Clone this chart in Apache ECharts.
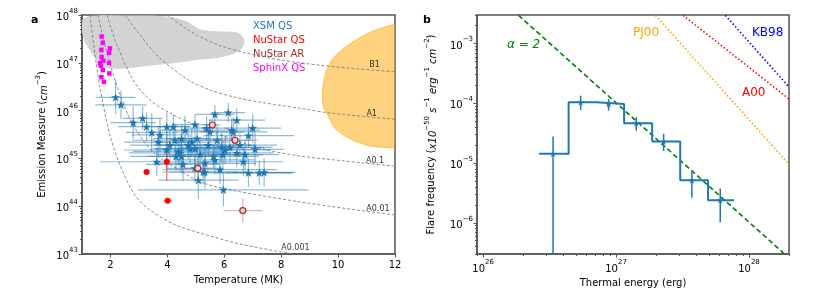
<!DOCTYPE html>
<html><head><meta charset="utf-8">
<script src="https://cdn.jsdelivr.net/npm/echarts@6/dist/echarts.min.js"></script>
<style>html,body{margin:0;padding:0;background:#fff}#c{width:822px;height:299px}</style>
</head><body><div id="c"></div>
<script>
// ---------- Panel a data ----------
// [T (MK), EM (cm^-3), T error (MK), EM error (dex)]
const xsmQS = [
 [2.18,1.9e46,0.7,0.35],[2.37,1.32e46,0.9,0.3],[2.80,5.6e45,0.8,0.35],[3.13,6.9e45,0.7,0.25],
 [3.27,4.6e45,1.0,0.3],[3.45,3.5e45,0.9,0.4],[3.68,2.2e45,1.2,0.3],[3.98,4.6e45,0.8,0.3],
 [4.21,4.6e45,0.6,0.25],[4.97,5.1e45,0.8,0.2],[5.67,8.3e45,0.7,0.2],[6.14,9.1e45,0.6,0.2],
 [5.50,3.6e45,1.2,0.25],[4.27,2.4e45,1.5,0.35],[4.50,2.6e45,1.0,0.3],[4.86,2.2e45,1.3,0.3],
 [3.98,1.5e45,1.5,0.4],[4.38,1.4e45,1.6,0.3],[4.97,1.6e45,1.4,0.3],[5.44,1.9e45,1.7,0.25],
 [5.91,1.7e45,1.5,0.3],[5.62,1.1e45,1.6,0.25],[5.32,7.9e44,1.8,0.3],[4.50,1.1e45,1.2,0.35],
 [3.63,8.5e44,2.0,0.3],[4.97,6.2e44,1.0,0.3],[5.32,5.2e44,1.5,0.35],[5.85,5.8e44,2.0,0.3],
 [5.09,3.5e44,1.4,0.4],[5.97,2.2e44,3.0,0.35],[6.26,3.9e45,1.0,0.25],[4.44,1.3e45,1.8,0.3],
 [5.26,5.2e44,1.2,0.25],[6.85,5.0e44,1.5,0.3],[7.23,5.0e44,1.2,0.25],[7.40,5.1e44,1.1,0.3],
 [7.08,1.55e45,1.0,0.35],[6.67,8.5e44,1.4,0.3],[6.44,1.3e45,1.3,0.3],[6.20,1.7e45,1.5,0.3],
 [6.44,6.3e45,1.0,0.25],[7.00,4.3e45,1.0,0.3],[6.85,3.0e45,1.6,0.25],[6.32,3.6e45,1.2,0.3],
 [5.38,4.3e45,0.8,0.25],[4.73,1.9e45,1.2,0.3],[5.15,1.2e45,1.5,0.3],[5.67,9.3e44,1.4,0.3],
 [6.03,1.5e45,1.6,0.3],[6.55,1.9e45,1.3,0.25],[6.73,1.2e45,1.2,0.3],[4.62,3.9e45,0.9,0.3],
 [3.74,3.1e45,1.0,0.35],[4.09,1.9e45,1.4,0.35],[4.80,1.6e45,1.3,0.3],[5.05,2.6e45,1.1,0.3],
 [5.75,2.4e45,1.2,0.3],[4.30,1.1e45,1.6,0.3],[5.95,1.2e45,1.4,0.3],[4.55,7.5e44,1.3,0.35]
];
const nustarQS = [[3.27,5.2e44,0.1,0.05],[3.98,8.5e44,0.05,0.4],[4.01,1.3e44,0.15,0.03]];
const nustarAR = [[5.58,5.0e45,0.3,0.12],[6.38,2.4e45,0.8,0.15],[5.07,6.2e44,0.5,0.25],[6.65,8.1e43,0.68,0.25]];
const sphinxQS = [
 [1.69,3.55e47],[1.73,2.63e47],[1.68,1.86e47],[1.95,1.62e47],[1.98,2.0e47],[1.69,1.32e47],
 [1.75,1.1e47],[1.63,9.8e46],[1.66,8.7e46],[1.95,1.0e47],[1.73,7.1e46],[1.96,6.0e46],
 [1.68,5.0e46],[1.77,4.0e46]
];
const grayCloud = [
 [1.035,7.9e47],[1.53,9.5e47],[2.34,9.5e47],[3.99,9.1e47],[4.69,7.1e47],[5.15,4.9e47],
 [5.85,4.4e47],[6.45,4.2e47],[6.69,3.0e47],[6.55,1.87e47],[5.85,1.32e47],[5.15,1.2e47],
 [4.20,1.0e47],[3.39,9.0e46],[2.79,8.1e46],[1.98,7.8e46],[1.63,1.0e47],[1.28,1.86e47],[1.07,3.3e47]
];
const orangeRegion = [
 [9.47,3.1e46],[9.62,7.5e46],[10.0,1.6e47],[11.0,4.0e47],[12.0,6.5e47],[12.6,8e47],
 [12.6,1.6e45],[12.0,1.66e45],[11.0,1.9e45],[10.0,3.7e45],[9.6,8.9e45],[9.47,1.3e46]
];
const curveA0001 = [[1.28,1e48],[1.46,1.45e47],[1.63,3.1e46],[1.98,3.1e45],[2.34,7.2e44],[2.86,1.7e44],[3.39,8.3e43],[4.27,4.1e43],[5.15,2.75e43],[6.55,1.62e43],[8.42,1.0e43]];
const curveA001 = [[1.56,1e48],[1.81,2.3e47],[2.16,4.4e46],[2.62,8.1e45],[3.14,2.4e45],[3.74,1.02e45],[4.37,6.0e44],[5.15,3.2e44],[6.38,2.1e44],[8.66,1.23e44],[10.42,8.7e43],[11.97,6.6e43]];
const curveA01 = [[1.88,1e48],[2.16,3.0e47],[2.79,4.4e46],[3.39,1.66e46],[4.09,8.9e45],[4.97,5.0e45],[6.38,2.4e45],[7.50,1.5e45],[8.66,1.12e45],[10.17,8.9e44],[11.97,6.9e44]];
const curveA1 = [[2.51,1e48],[3.04,3.8e47],[3.74,1.26e47],[4.73,4.4e46],[5.50,2.7e46],[6.38,1.9e46],[7.26,1.5e46],[8.66,1.12e46],[9.72,8.9e45],[12.0,6.6e45]];
const curveB1 = [[3.99,1e48],[4.62,5.4e47],[5.15,3.5e47],[5.85,2.3e47],[6.73,1.62e47],[7.96,1.15e47],[9.37,8.9e46],[10.77,7.4e46],[12.0,6.5e46]];
const curveLabels = [["B1",11.28,9.0e46],["A1",11.18,8.7e45],["A0.1",11.30,9.0e44],["A0.01",11.40,8.7e43],["A0.001",8.50,1.37e43]];
const tempTicks = [2,4,6,8,10,12];
const emTicks = [1e43,1e44,1e45,1e46,1e47,1e48];

// ---------- Panel b data ----------
const binEdges = [2.64e26,4.40e26,7.11e26,1.15e27,1.87e27,3.04e27,4.92e27,7.74e27];
const binFreq = [1.43e-5,1.04e-4,9.7e-5,4.64e-5,2.29e-5,5.13e-6,2.38e-6];
const binCenters = [3.36e26,5.42e26,8.79e26,1.42e27,2.28e27,3.72e27,6.08e27];
const freqHi = [2.77e-5,1.34e-4,1.18e-4,5.85e-5,3.08e-5,7.08e-6,3.73e-6];
const freqLo = [1e-9,7.73e-5,7.53e-5,3.49e-5,1.6e-5,2.61e-6,1.02e-6];
const alpha2Line = [[1.85e26,2.96e-3],[1.82e28,3.1e-7]];
const pj00Line = [[1.98e27,2.96e-3],[2.01e28,9.4e-6]];
const a00Line = [[3.19e27,2.96e-3],[2.01e28,1.17e-4]];
const kb98Line = [[6.64e27,2.96e-3],[2.01e28,1.85e-4]];
const energyTicks = [1e26,1e27,1e28];
const freqTicks = [1e-6,1e-5,1e-4,1e-3];
const minorMantissas = [2,3,4,5,6,7,8,9];

// ---------- build ----------
const FONT = 'DejaVu Sans';
const AX = '#555';
function minors(d0, d1, lo, hi){
  const out=[];
  for(let d=d0; d<=d1; d++) minorMantissas.forEach(m=>{const v=m*Math.pow(10,d); if(v>=lo*0.999 && v<=hi*1.001) out.push(v);});
  return out;
}
// keep boundary ticks inside the float extent
function inside(vals, lo, hi){
  return vals.map(v=>{
    if(Math.abs(v/hi-1)<1e-6) return hi*(1-1e-9);
    if(Math.abs(v/lo-1)<1e-6) return lo*(1+1e-9);
    return v;
  });
}
const supRich = {
  b:{fontSize:10,fontFamily:FONT,color:'#000',verticalAlign:'bottom',lineHeight:15},
  s:{fontSize:7,fontFamily:FONT,color:'#000',verticalAlign:'top',lineHeight:15}
};
function powFmt(v){ const e=Math.round(Math.log10(v)); return '{b|10}{s|'+(e<0?'\u2212'+(-e):e)+'}'; }

const STAR = 'path://M50,0L61.23,34.55L97.55,34.55L68.17,55.9L79.39,90.45L50,69.1L20.61,90.45L31.83,55.9L2.45,34.55L38.77,34.55Z';

function errRender(color, width){
  return function(params, api){
    const T=api.value(0), EM=api.value(1), dT=api.value(2), dd=api.value(3);
    const c=api.coord([T,EM]), l=api.coord([T-dT,EM]), r=api.coord([T+dT,EM]);
    const t=api.coord([T,EM*Math.pow(10,dd)]), b=api.coord([T,EM/Math.pow(10,dd)]);
    return {type:'group',children:[
      {type:'line',shape:{x1:l[0],y1:c[1],x2:r[0],y2:c[1]},style:{stroke:color,lineWidth:width}},
      {type:'line',shape:{x1:c[0],y1:t[1],x2:c[0],y2:b[1]},style:{stroke:color,lineWidth:width}}
    ]};
  };
}
function polyRender(points, fill, stroke){
  return function(params, api){
    if(params.dataIndex!==0) return null;
    return {type:'polygon',shape:{points:points.map(p=>api.coord(p)),smooth:0.35},style:{fill:fill,stroke:stroke,lineWidth:1}};
  };
}
function curve(data){
  return {type:'line',xAxisIndex:0,yAxisIndex:0,data:data,symbol:'none',smooth:0.3,silent:true,
    lineStyle:{color:'#808080',width:0.9,type:[3,2]},z:3};
}
function refLine(data,color,dash){
  return {type:'line',xAxisIndex:1,yAxisIndex:2,data:data,symbol:'none',silent:true,
    lineStyle:{color:color,width:1.6,type:dash},z:4};
}

const stepData = binEdges.map((e,i)=>[e, binFreq[Math.min(i,binFreq.length-1)]]);
const bErr = binCenters.map((c,i)=>[c,binFreq[i],freqLo[i],freqHi[i]]);
const emT = inside(emTicks,1e43,1e48), enT = inside(energyTicks,9e25,2e28), frT = inside(freqTicks,3e-7,3e-3);

const option = {
  animation:false,
  backgroundColor:'#fff',
  textStyle:{fontFamily:FONT},
  grid:[
    {left:82,top:15,width:313,height:239,show:true,borderColor:AX,borderWidth:1.5,backgroundColor:'transparent'},
    {left:477,top:15,width:312,height:239,show:true,borderColor:AX,borderWidth:1.5,backgroundColor:'transparent'}
  ],
  xAxis:[
    {type:'value',gridIndex:0,position:'bottom',min:1,max:12,splitLine:{show:false},
     axisLine:{lineStyle:{color:AX,width:1.5}},
     axisTick:{customValues:tempTicks,length:3.5,lineStyle:{color:AX}},
     axisLabel:{customValues:tempTicks,color:'#000',fontSize:10,fontFamily:FONT,margin:6},
     name:'Temperature (MK)',nameLocation:'middle',nameGap:21,nameTextStyle:{color:'#000',fontSize:10,fontFamily:FONT}},
    {type:'log',gridIndex:1,position:'bottom',logBase:10,min:9e25,max:2e28,splitLine:{show:false},
     axisLine:{lineStyle:{color:AX,width:1.5}},
     axisTick:{customValues:enT,length:3.5,lineStyle:{color:AX}},
     axisLabel:{customValues:enT,formatter:powFmt,rich:supRich,margin:5},
     name:'Thermal energy (erg)',nameLocation:'middle',nameGap:23,nameTextStyle:{color:'#000',fontSize:10,fontFamily:FONT}},
    {type:'log',gridIndex:1,position:'bottom',offset:0,logBase:10,min:9e25,max:2e28,splitLine:{show:false},
     axisLine:{show:false},axisLabel:{show:false},
     axisTick:{customValues:minors(25,28,9e25,2e28),length:2,lineStyle:{color:AX}}}
  ],
  yAxis:[
    {type:'log',gridIndex:0,position:'left',logBase:10,min:1e43,max:1e48,splitLine:{show:false},
     axisLine:{show:true,lineStyle:{color:AX,width:1.5}},
     axisTick:{show:true,customValues:emT,length:3.5,lineStyle:{color:AX}},
     axisLabel:{customValues:emT,formatter:powFmt,rich:supRich,margin:4},
     name:'Emission Measure ({i|cm}{s|\u22123})',nameLocation:'middle',nameRotate:90,nameGap:33,
     nameTextStyle:{color:'#000',fontSize:10,fontFamily:FONT,rich:{
        i:{fontSize:10,fontStyle:'italic',fontFamily:FONT,color:'#000',verticalAlign:'bottom',lineHeight:14},
        s:{fontSize:7,fontStyle:'italic',fontFamily:FONT,color:'#000',verticalAlign:'top',lineHeight:14}}}},
    {type:'log',gridIndex:0,position:'left',offset:0,logBase:10,min:1e43,max:1e48,splitLine:{show:false},
     axisLine:{show:false},axisLabel:{show:false},
     axisTick:{show:true,customValues:minors(43,47,1e43,1e48),length:2,lineStyle:{color:AX}}},
    {type:'log',gridIndex:1,position:'left',logBase:10,min:3e-7,max:3e-3,splitLine:{show:false},
     axisLine:{show:true,lineStyle:{color:AX,width:1.5}},
     axisTick:{show:true,customValues:frT,length:3.5,lineStyle:{color:AX}},
     axisLabel:{customValues:frT,formatter:powFmt,rich:supRich,margin:4},
     name:'Flare frequency ({i|x10}{s|\u221250}{i| s}{s|\u22121}{i| erg}{s|\u22121}{i| cm}{s|\u22122})',
     nameLocation:'middle',nameRotate:90,nameGap:39,
     nameTextStyle:{color:'#000',fontSize:10,fontFamily:FONT,rich:{
        i:{fontSize:10,fontStyle:'italic',fontFamily:FONT,color:'#000',verticalAlign:'bottom',lineHeight:14},
        s:{fontSize:7,fontFamily:FONT,color:'#000',verticalAlign:'top',lineHeight:14}}}},
    {type:'log',gridIndex:1,position:'left',offset:0,logBase:10,min:3e-7,max:3e-3,splitLine:{show:false},
     axisLine:{show:false},axisLabel:{show:false},
     axisTick:{show:true,customValues:minors(-7,-3,3e-7,3e-3),length:2,lineStyle:{color:AX}}}
  ],
  series:[
    {type:'custom',xAxisIndex:0,yAxisIndex:0,clip:true,silent:true,z:1,data:grayCloud,
     renderItem:polyRender(grayCloud,'#d3d3d3','#d3d3d3')},
    {type:'custom',xAxisIndex:0,yAxisIndex:0,clip:true,silent:true,z:1,data:orangeRegion,
     renderItem:polyRender(orangeRegion,'rgba(255,165,0,0.5)','rgba(255,165,0,0.6)')},
    curve(curveA0001),curve(curveA001),curve(curveA01),curve(curveA1),curve(curveB1),
    {type:'scatter',xAxisIndex:0,yAxisIndex:0,symbolSize:0,silent:true,z:5,
     data:curveLabels.map(d=>({value:[d[1],d[2]],name:d[0]})),
     label:{show:true,position:'inside',formatter:'{b}',color:'#000',fontSize:8,fontFamily:FONT}},
    {type:'custom',xAxisIndex:0,yAxisIndex:0,clip:true,silent:true,z:6,data:xsmQS,
     renderItem:errRender('rgba(31,119,180,0.5)',1.2)},
    {type:'custom',xAxisIndex:0,yAxisIndex:0,clip:true,silent:true,z:6,data:nustarAR,
     renderItem:errRender('rgba(165,42,42,0.35)',1.2)},
    {type:'custom',xAxisIndex:0,yAxisIndex:0,clip:true,silent:true,z:6,data:nustarQS,
     renderItem:errRender('rgba(255,0,0,0.6)',1.2)},
    {type:'scatter',xAxisIndex:0,yAxisIndex:0,z:7,symbol:STAR,symbolSize:[9,8.6],
     data:xsmQS.map(d=>[d[0],d[1]]),itemStyle:{color:'#1f77b4',opacity:1}},
    {type:'scatter',xAxisIndex:0,yAxisIndex:0,z:7,symbol:'circle',symbolSize:6,
     data:nustarQS.map(d=>[d[0],d[1]]),itemStyle:{color:'#ff0000',opacity:1}},
    {type:'scatter',xAxisIndex:0,yAxisIndex:0,z:7,symbol:'circle',symbolSize:6,
     data:nustarAR.map(d=>[d[0],d[1]]),itemStyle:{color:'#f3d6d6',borderColor:'#a52a2a',borderWidth:1.2,opacity:1}},
    {type:'scatter',xAxisIndex:0,yAxisIndex:0,z:7,symbol:'rect',symbolSize:4.5,
     data:sphinxQS,itemStyle:{color:'#ff00ff',opacity:1}},
    // panel b
    refLine(alpha2Line,'#008000',[5,3]),
    refLine(pj00Line,'#ffa500',[1.5,2.2]),
    refLine(a00Line,'#ff0000',[1.5,2.2]),
    refLine(kb98Line,'#0000ff',[1.5,2.2]),
    {type:'line',xAxisIndex:1,yAxisIndex:2,data:stepData,step:'end',symbol:'none',silent:true,z:5,
     lineStyle:{color:'#1f77b4',width:2}},
    {type:'custom',xAxisIndex:1,yAxisIndex:2,clip:true,silent:true,z:6,data:bErr,
     renderItem:function(params,api){
       const c=api.coord([api.value(0),api.value(1)]);
       const lo=api.coord([api.value(0),api.value(2)]), hi=api.coord([api.value(0),api.value(3)]);
       return {type:'line',shape:{x1:c[0],y1:hi[1],x2:c[0],y2:lo[1]},style:{stroke:'#1f77b4',lineWidth:1.5}};
     }},
    {type:'scatter',xAxisIndex:1,yAxisIndex:2,z:7,symbol:STAR,symbolSize:[7,6.7],
     data:binCenters.map((c,i)=>[c,binFreq[i]]),itemStyle:{color:'#1f77b4',opacity:1}}
  ],
  graphic:[
    {type:'text',left:31,top:15,style:{text:'a',font:'bold 11px "DejaVu Sans"',fill:'#000'}},
    {type:'text',left:423,top:15,style:{text:'b',font:'bold 11px "DejaVu Sans"',fill:'#000'}},
    {type:'text',left:253,top:21,style:{text:'XSM QS',font:'10px "DejaVu Sans"',fill:'#1f77b4'}},
    {type:'text',left:253,top:35,style:{text:'NuStar QS',font:'10px "DejaVu Sans"',fill:'#ff0000'}},
    {type:'text',left:253,top:49,style:{text:'NuStar AR',font:'10px "DejaVu Sans"',fill:'#a52a2a'}},
    {type:'text',left:253,top:63,style:{text:'SphinX QS',font:'10px "DejaVu Sans"',fill:'#ff00ff'}},
    {type:'text',left:507,top:39,style:{text:'\u03b1 = 2',font:'italic 12px "DejaVu Sans"',fill:'#008000'}},
    {type:'text',left:633,top:27,style:{text:'PJ00',font:'12px "DejaVu Sans"',fill:'#ffa500'}},
    {type:'text',left:752,top:27,style:{text:'KB98',font:'12px "DejaVu Sans"',fill:'#0000ff'}},
    {type:'text',left:742,top:87,style:{text:'A00',font:'12px "DejaVu Sans"',fill:'#ff0000'}}
  ]
};
const chart = echarts.init(document.getElementById('c'));
chart.setOption(option);
</script></body></html>
